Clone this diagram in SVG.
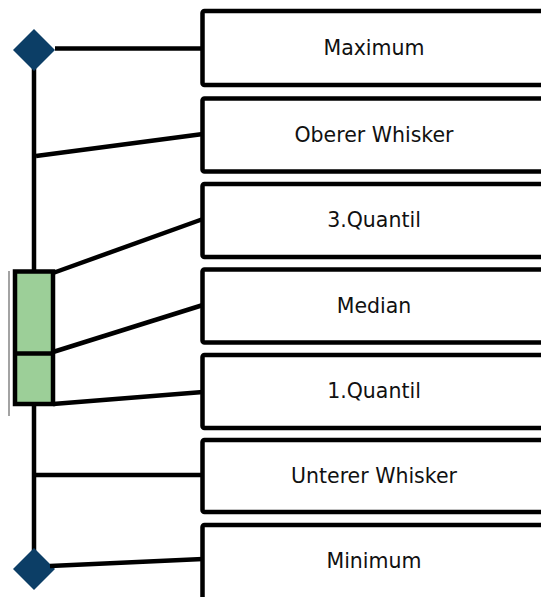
<svg xmlns="http://www.w3.org/2000/svg" width="541" height="597" viewBox="0 0 541 597">
<style>
.box{fill:#fff;stroke:#000;stroke-width:4.5}
.lbl{font-family:"DejaVu Sans",Verdana,sans-serif;font-size:20.5px;fill:#111;text-anchor:middle}
.con{stroke:#000;stroke-width:4.5;fill:none}
.dia{fill:#0c3e66}
</style>
<rect width="541" height="597" fill="#fff"/>
<g id="plot">
<line x1="9" y1="271" x2="9" y2="416" stroke="#666" stroke-width="1.2"/>
<line x1="34" y1="50" x2="34" y2="568" stroke="#000" stroke-width="4.5"/>
<rect x="15" y="271.5" width="38" height="132.5" fill="#9ccf98" stroke="#000" stroke-width="4.5"/>
<line x1="15" y1="353.5" x2="53" y2="353.5" stroke="#000" stroke-width="4.5"/>
<path class="dia" d="M34 29 L55 50 L34 71 L13 50 Z"/>
<path class="dia" d="M34 548 L55 569 L34 590 L13 569 Z"/>
</g>
<g id="connectors">
<line class="con" x1="55" y1="48.5" x2="203" y2="48.5"/>
<line class="con" x1="36" y1="156" x2="203" y2="134"/>
<line class="con" x1="53" y1="273" x2="203" y2="219"/>
<line class="con" x1="53" y1="352" x2="203" y2="305"/>
<line class="con" x1="53" y1="404" x2="203" y2="392"/>
<line class="con" x1="34" y1="475" x2="203" y2="475"/>
<line class="con" x1="50" y1="566" x2="203" y2="559"/>
</g>
<g id="n-maximum"><rect class="box" x="202.5" y="11" width="345" height="74" rx="2"/><text class="lbl" x="374" y="55">Maximum</text></g>
<g id="n-oberer"><rect class="box" x="202.5" y="98.5" width="345" height="73" rx="2"/><text class="lbl" x="374" y="141.5">Oberer Whisker</text></g>
<g id="n-q3"><rect class="box" x="202.5" y="184" width="345" height="73" rx="2"/><text class="lbl" x="374" y="227">3.Quantil</text></g>
<g id="n-median"><rect class="box" x="202.5" y="269.5" width="345" height="73" rx="2"/><text class="lbl" x="374" y="312.5">Median</text></g>
<g id="n-q1"><rect class="box" x="202.5" y="355" width="345" height="73" rx="2"/><text class="lbl" x="374" y="398">1.Quantil</text></g>
<g id="n-unterer"><rect class="box" x="202.5" y="440" width="345" height="72" rx="2"/><text class="lbl" x="374" y="482.5">Unterer Whisker</text></g>
<g id="n-minimum"><rect class="box" x="202.5" y="525" width="345" height="80" rx="2"/><text class="lbl" x="374" y="567.5">Minimum</text></g>
</svg>
